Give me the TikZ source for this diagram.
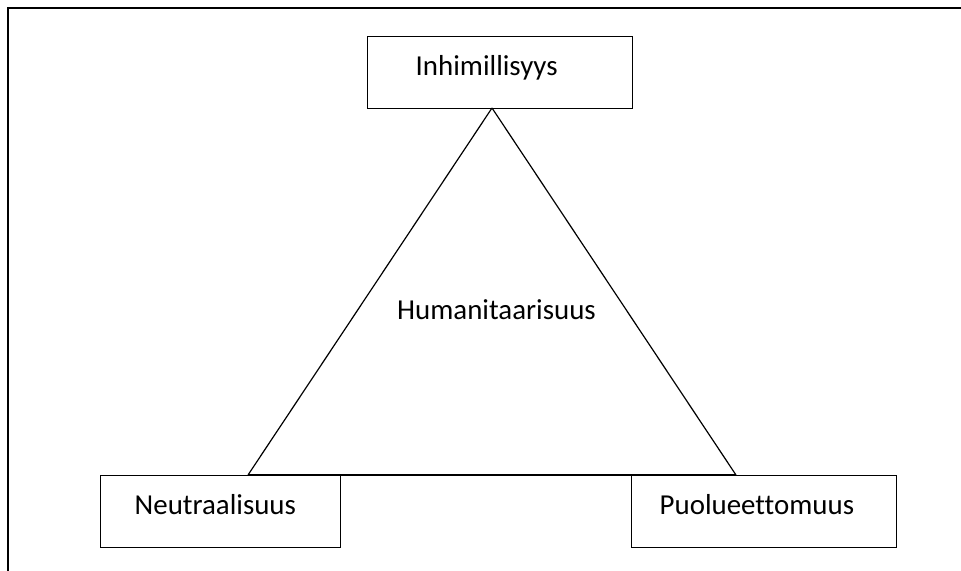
\documentclass[tikz,border=0pt]{standalone}
\usepackage{fontspec}
\setmainfont{Carlito}[Ligatures=NoCommon]
\usetikzlibrary{positioning}
\usetikzlibrary{calc}

\tikzset{
  frameline/.style={line width=2.2bp},
  topicbox/.style={draw, line width=1.4bp, rectangle, align=left, inner ysep=0pt,
    text height=39bp, text depth=33bp, font=\fontsize{29}{34}\selectfont},
  side/.style={line width=1.2bp}
}

\begin{document}
\begin{tikzpicture}[x=1bp,y=-1bp]
\useasboundingbox (0,0) rectangle (961,571);

\coordinate (corner) at (8,8);
\coordinate (frameR) at (961,8);
\coordinate (frameB) at (8,571);

\node[topicbox, inner xsep=48bp, text width=169bp, anchor=north west](inh) at (367,36){Inhimillisyys};
\node[topicbox, inner xsep=34bp, text width=172bp, anchor=north west](neu) at (100,475){Neutraalisuus};
\node[topicbox, inner xsep=28bp, text width=209bp, anchor=north west](puo) at (631,475){Puolueettomuus};
\node[font=\fontsize{29}{34}\selectfont, anchor=base](hum) at (496.5,319){Humanitaarisuus};

\coordinate (apex) at (492,108);
\coordinate (baseL) at (248,475);
\coordinate (baseR) at (736,475);

\draw[frameline] (frameR) -- (corner) -- (frameB);

\path
(apex) edge[side] (baseL)
(apex) edge[side] (baseR)
(baseL) edge[side] (baseR);
\end{tikzpicture}
\end{document}
